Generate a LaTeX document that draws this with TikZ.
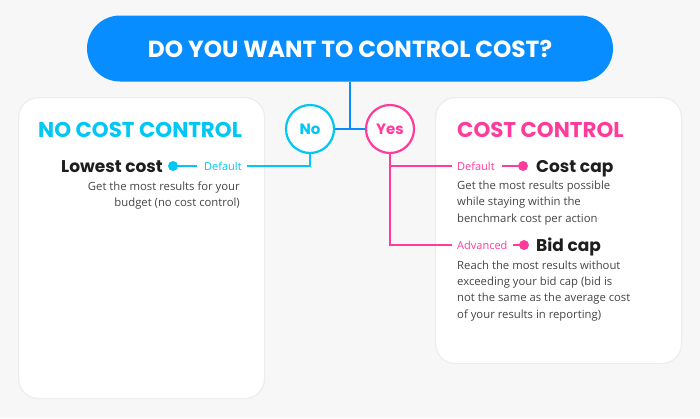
\documentclass[tikz,border=0pt]{standalone}
\usepackage{fontspec}
\setmainfont{Open Sans}
\newfontfamily\headfont{Poppins}
\definecolor{fbblue}{HTML}{078DFF}
\definecolor{fbcyan}{HTML}{00C7F4}
\definecolor{fbpink}{HTML}{FF3C9C}
\definecolor{ink}{HTML}{1E1E1E}
\definecolor{bodyc}{HTML}{454545}
\definecolor{bgc}{HTML}{F7F7F7}
\begin{document}
\begin{tikzpicture}[x=1pt,y=-1pt,
  card/.style={fill=white, rounded corners=20pt, draw=black!7, line width=1.2pt, inner sep=0},
  pill/.style={fill=fbblue, rounded corners=33pt, inner sep=0, text=white, font=\headfont\bfseries\fontsize{23.3}{26}\selectfont},
  choice/.style={circle, fill=white, line width=2.2pt, minimum size=48pt, inner sep=0, font=\headfont\bfseries\fontsize{15}{18}\selectfont},
  head/.style={inner sep=0, font=\headfont\bfseries\fontsize{21.4}{24}\selectfont},
  opt/.style={inner sep=0, text=ink, font=\headfont\bfseries\fontsize{17}{19}\selectfont},
  tag/.style={inner sep=0, font=\fontsize{11}{12}\selectfont},
  desc/.style={inner sep=0, text=bodyc, font=\fontsize{11.3}{16.3}\selectfont},
  dotc/.style={circle, inner sep=0, minimum size=10pt},
  bline/.style={draw=fbblue, line width=2.5pt},
  cline/.style={draw=fbcyan, line width=2.5pt},
  pline/.style={draw=fbpink, line width=2.5pt}]
\fill[bgc] (0,0) rectangle (700,418);
\useasboundingbox (0,0) rectangle (700,418);
% cards
\node[card, minimum width=246pt, minimum height=301pt, anchor=north west] (lcard) at (18,97) {};
\node[card, minimum width=246pt, minimum height=266pt, anchor=north west] (rcard) at (435,97) {};
% question
\node[pill, minimum width=526pt, minimum height=66pt] (q) at (350,48.5) {DO YOU WANT TO CONTROL COST?};
% choices
\node[choice, draw=fbcyan, text=fbcyan] (no) at (310,129) {No};
\node[choice, draw=fbpink, text=fbpink] (yes) at (390,129) {Yes};
\coordinate (j) at (q.south |- no.east);
\draw[bline] (q.south) -- (j);
\draw[bline] (no.east) -- (yes.west);
% headings
\node[head, text=fbcyan, anchor=base west] (nch) at (38,137) {NO COST CONTROL};
\node[head, text=fbpink, anchor=base west] (cch) at (457,137) {COST CONTROL};
% left option
\node[opt, anchor=base east] (low) at (163,172) {Lowest cost};
\node[dotc, fill=fbcyan] (ldot) at (173,166) {};
\node[tag, text=fbcyan, anchor=west] (ldef) at (204,166) {Default};
\draw[cline] (ldot.center) -- ([xshift=-7pt]ldef.west);
\draw[cline] (no.south) |- ([xshift=5pt]ldef.east);
\node[desc, anchor=base east, align=right] (ldesc) at (240,206.5) {Get the most results for your\\budget (no cost control)};
% right options
\node[tag, text=fbpink, anchor=west] (rdef) at (457,166) {Default};
\node[dotc, fill=fbpink] (cdot) at (523,166) {};
\node[opt, anchor=base west] (ccap) at (536,172) {Cost cap};
\draw[pline] ([xshift=7pt]rdef.east) -- (cdot.center);
\node[desc, anchor=base west, align=left] (cdesc) at (457,222) {Get the most results possible\\while staying within the\\benchmark cost per action};
\node[tag, text=fbpink, anchor=west] (radv) at (457,245) {Advanced};
\node[dotc, fill=fbpink] (bdot) at (524,245) {};
\node[opt, anchor=base west] (bcap) at (536,251) {Bid cap};
\draw[pline] ([xshift=5pt]radv.east) -- (bdot.center);
\node[desc, anchor=base west, align=left] (bdesc) at (457,318) {Reach the most results without\\exceeding your bid cap (bid is\\not the same as the average cost\\of your results in reporting)};
\draw[pline] (yes.south) |- ([xshift=-5pt]radv.west);
\draw[pline] (yes.south |- rdef.west) -- ([xshift=-5pt]rdef.west);
\end{tikzpicture}
\end{document}
